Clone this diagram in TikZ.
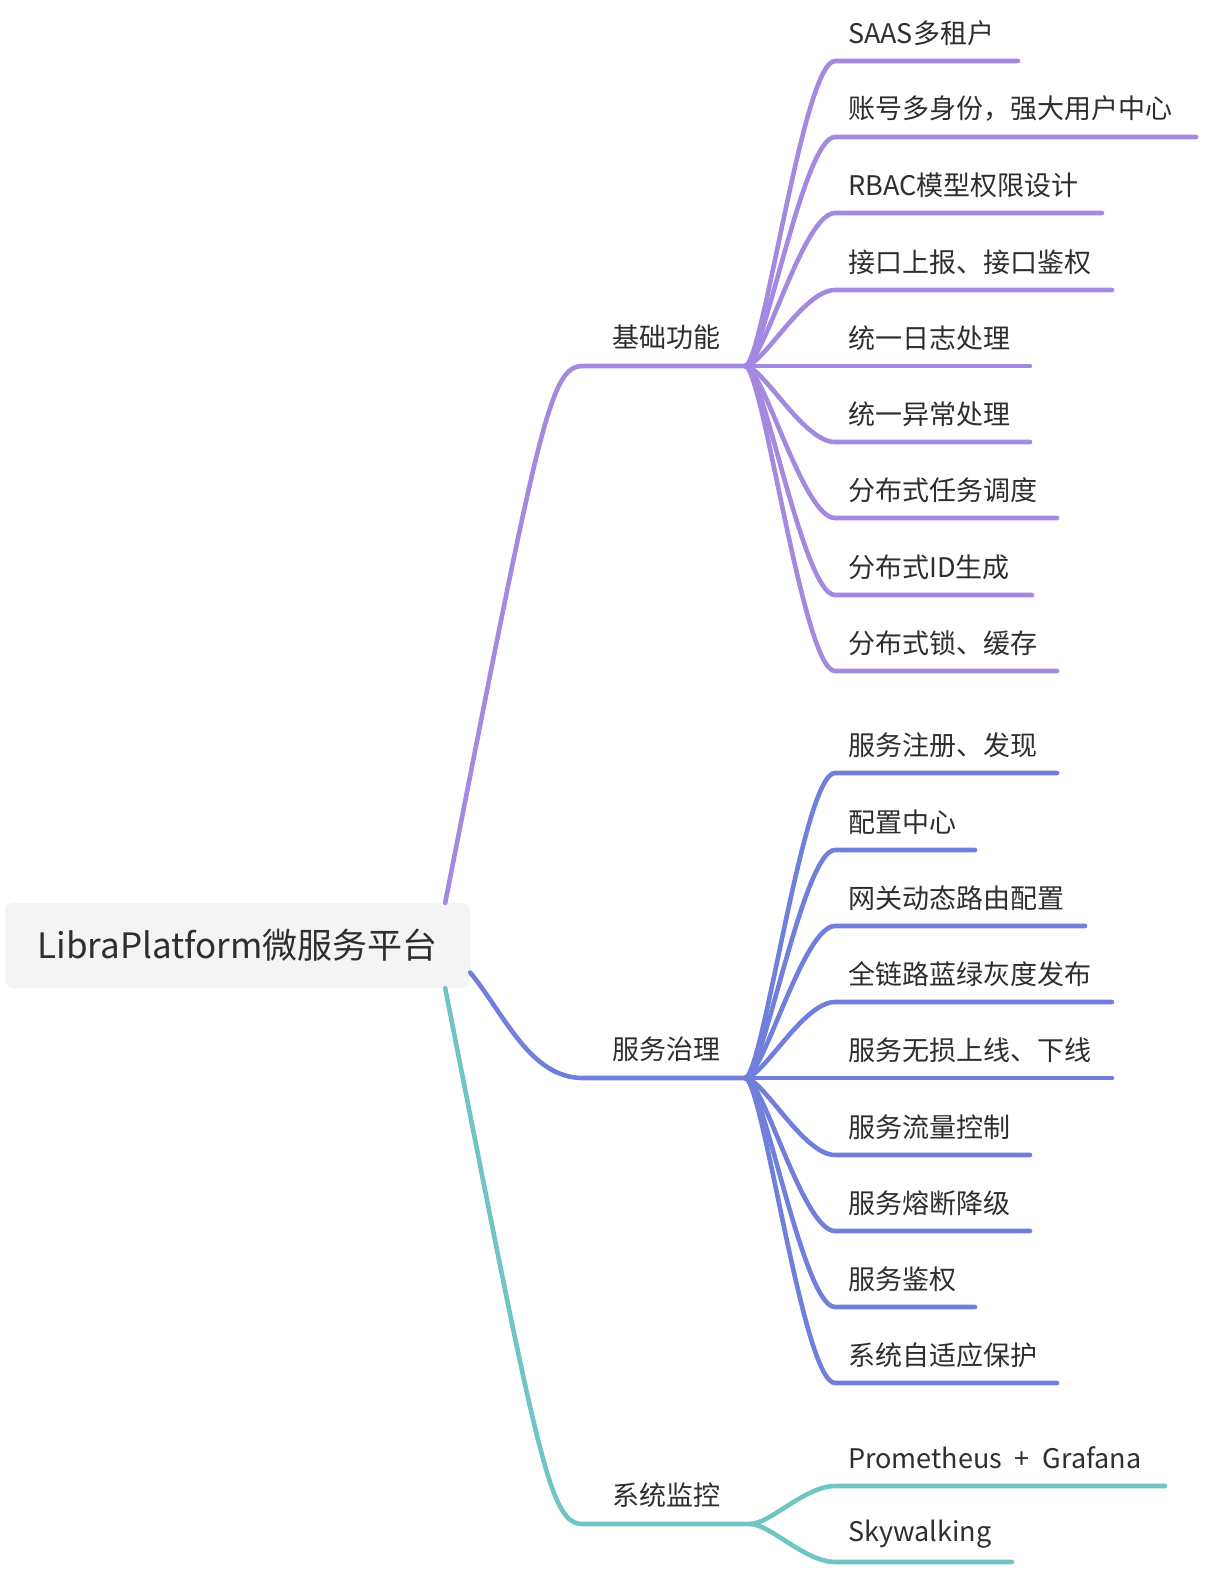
\documentclass[tikz,border=0pt]{standalone}
\usepackage{fontspec}
\setmainfont{Noto Sans CJK SC}
\usetikzlibrary{positioning}
\definecolor{purp}{HTML}{A389E0}
\definecolor{blu}{HTML}{6F7FDB}
\definecolor{teal}{HTML}{6EC5C4}
\definecolor{ink}{HTML}{2E2E2E}
\definecolor{rootbg}{HTML}{F4F4F4}
\tikzset{
  leaf/.style={anchor=west, inner sep=0pt, text=ink, font=\fontsize{27}{30}\selectfont},
  topic/.style={inner sep=0pt, text=ink, font=\fontsize{27}{30}\selectfont},
  twig/.style={line width=4.6pt, line cap=round},
}
\begin{document}
\begin{tikzpicture}[x=1pt,y=-1pt]
  \useasboundingbox (0,0) rectangle (1220,1596);
  % root
  \node[fill=rootbg, rounded corners=8pt, minimum width=465pt, minimum height=85pt,
        text=ink, font=\fontsize{35}{40}\selectfont] (root) at (237.5,945.5) {LibraPlatform微服务平台};
  % main branches
  \coordinate (baseL) at (583,366);  \coordinate (baseR) at (745,366);
  \coordinate (govL) at (583,1078);  \coordinate (govR) at (745,1078);
  \coordinate (monL) at (583,1524);  \coordinate (monR) at (750,1524);
  \node[topic] (base) at (666,337) {基础功能};
  \node[topic] (gov) at (666,1049) {服务治理};
  \node[topic] (mon) at (666,1495) {系统监控};
  \draw[twig, purp] ([xshift=-25pt]root.north east) .. controls (540,420) and (550,366) .. (baseL) -- (baseR);
  \draw[twig, blu] ([yshift=-27pt]root.east) .. controls (505,1015) and (530,1078) .. (govL) -- (govR);
  \draw[twig, teal] ([xshift=-25pt]root.south east) .. controls (540,1470) and (550,1524) .. (monL) -- (monR);
  % basic functions
  \foreach \y/\e/\t [count=\i] in {61/1018/SAAS多租户, 137/1196/{账号多身份，强大用户中心},
      213/1102/RBAC模型权限设计, 290/1112/接口上报、接口鉴权, 366/1030/统一日志处理,
      442/1030/统一异常处理, 518/1057/分布式任务调度, 595/1032/分布式ID生成, 671/1057/分布式锁、缓存} {
    \node[leaf] (b\i) at (848,\y-28) {\t};
    \coordinate (b\i e) at (\e,\y);
    \draw[twig, purp] (baseR) .. controls +(18,0) and +(-32,0) .. (835,\y) -- (b\i e);
  }
  % service governance
  \foreach \y/\e/\t [count=\i] in {773/1057/服务注册、发现, 850/975/配置中心, 926/1085/网关动态路由配置,
      1002/1112/全链路蓝绿灰度发布, 1078/1112/服务无损上线、下线, 1155/1030/服务流量控制,
      1231/1030/服务熔断降级, 1307/975/服务鉴权, 1383/1057/系统自适应保护} {
    \node[leaf] (g\i) at (848,\y-28) {\t};
    \coordinate (g\i e) at (\e,\y);
    \draw[twig, blu] (govR) .. controls +(18,0) and +(-32,0) .. (835,\y) -- (g\i e);
  }
  % monitoring
  \foreach \y/\e/\t [count=\i] in {1486/1165/{Prometheus\hspace{0.25em} +\hspace{0.25em} Grafana}, 1562/1012/Skywalking} {
    \node[leaf] (m\i) at (848,\y-28) {\t};
    \coordinate (m\i e) at (\e,\y);
    \draw[twig, teal] (monR) .. controls +(20,0) and +(-30,0) .. (835,\y) -- (m\i e);
  }
\end{tikzpicture}
\end{document}
